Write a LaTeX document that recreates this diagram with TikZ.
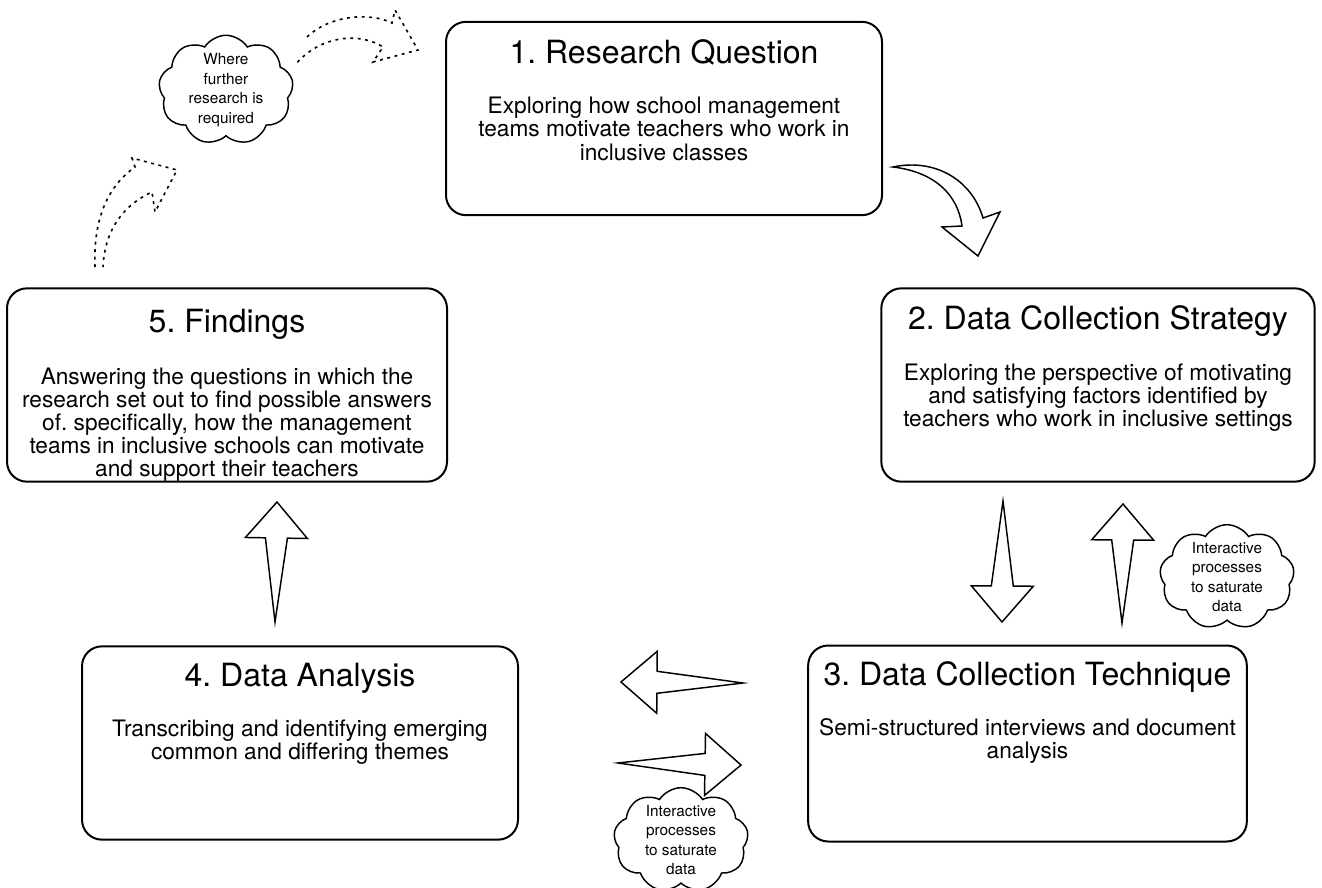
\documentclass[tikz,border=0pt]{standalone}
\usepackage{fontspec}
\setmainfont{TeX Gyre Heros}
\usetikzlibrary{calc,positioning,shapes.symbols}
\frenchspacing

% tapered block arrow from tail point #1 to tip #2
\newcommand{\taperarrow}[2]{%
    \coordinate (ta-base) at ($(#2)!27pt!(#1)$);
    \draw[blockarrow] (#1) -- ($(ta-base)!8.25pt!90:(#2)$) -- ($(ta-base)!23.25pt!90:(#2)$)
        -- (#2) -- ($(ta-base)!23.25pt!-90:(#2)$) -- ($(ta-base)!8.25pt!-90:(#2)$) -- cycle;}

\begin{document}
\begin{tikzpicture}[
    x=0.75pt, y=-0.75pt,
    stage/.style={
        rectangle,
        rounded corners=15pt,
        draw=black,
        line width=1.5pt,
        minimum width=#1,
        minimum height=145pt,
        inner sep=0pt
    },
    stage/.default=327pt,
    stagetitle/.style={
        font=\fontsize{24}{28}\selectfont,
        text height=0.72em,
        text depth=0.2em,
        inner sep=0pt
    },
    stagetext/.style={
        font=\fontsize{17}{17.4}\selectfont,
        align=center,
        anchor=north,
        inner sep=0pt
    },
    remark/.style={
        cloud,
        cloud puffs=9,
        cloud puff arc=115,
        cloud ignores aspect,
        draw=black,
        line width=1.1pt,
        fill=white,
        align=center,
        font=\fontsize{11.5}{14.7}\selectfont,
        minimum width=101pt,
        minimum height=75pt,
        inner xsep=-6pt,
        inner ysep=-1pt
    },
    blockarrow/.style={draw=black, fill=white, line width=1.1pt, line join=miter},
    dotarrow/.style={draw=black, line width=1.2pt, dash pattern=on 2.2pt off 3.4pt}
]
\useasboundingbox (0,0) rectangle (1322,888);

% stages
\node[stage] (question) at (664,118.5) {};
\node[stage=325pt] (strategy) at (1098,385) {};
\node[stage=329pt, minimum height=147pt] (technique) at (1027.5,743.5) {};
\node[stage] (analysis) at (300,743) {};
\node[stage=330pt] (findings) at (227,385) {};

\node[stagetitle] (questiont) at ($(question.north)+(0,39)$) {1. Research Question};
\node[stagetext] (questionb) at ($(question.north)+(0,76)$)
    {Exploring how school management\\teams motivate teachers who work in\\inclusive classes};

\node[stagetitle] (strategyt) at ($(strategy.north)+(0,39)$) {2. Data Collection Strategy};
\node[stagetext] (strategyb) at ($(strategy.north)+(0,76)$)
    {Exploring the perspective of motivating\\and satisfying factors identified by\\teachers who work in inclusive settings};

\node[stagetitle] (techniquet) at ($(technique.north)+(0,38)$) {3. Data Collection Technique};
\node[stagetext] (techniqueb) at ($(technique.north)+(0,74)$)
    {Semi-structured interviews and document\\analysis};

\node[stagetitle] (analysist) at ($(analysis.north)+(0,38)$) {4. Data Analysis};
\node[stagetext] (analysisb) at ($(analysis.north)+(0,74)$)
    {Transcribing and identifying emerging\\common and differing themes};

\node[stagetitle] (findingst) at ($(findings.north)+(0,42)$) {5. Findings};
\node[stagetext] (findingsb) at ($(findings.north)+(0,80)$)
    {Answering the questions in which the\\research set out to find possible answers\\of. specifically, how the management\\teams in inclusive schools can motivate\\and support their teachers};

% clouds
\node[remark] (further) at (226,90) {Where\\further\\research is\\required};
\node[remark] (iterate) at (1227,577) {Interactive\\processes\\to saturate\\data};
\node[remark] (iterateb) at (681,840) {Interactive\\processes\\to saturate\\data};

% straight block arrows
\coordinate (s2a) at (1003,501);  \coordinate (s2b) at (1002,622);
\coordinate (s3a) at (1122,623);  \coordinate (s3b) at (1123,504);
\coordinate (s4a) at (743,683);   \coordinate (s4b) at (621,682);
\coordinate (s5a) at (618,763);   \coordinate (s5b) at (741,765);
\coordinate (s6a) at (275,622);   \coordinate (s6b) at (277,502);
\taperarrow{s2a}{s2b}
\taperarrow{s3a}{s3b}
\taperarrow{s4a}{s4b}
\taperarrow{s5a}{s5b}
\taperarrow{s6a}{s6b}

% curved block arrow 1 -> 2
\draw[blockarrow] (893,167) .. controls (935,158) and (972,180) .. (983,218)
    -- (1000,212) -- (978,256) -- (942,227) -- (962,226)
    .. controls (958,195) and (935,172) .. cycle;

% dotted arrows towards further research
\draw[dotarrow] (95,267) .. controls (93,215) and (110,185) .. (135,167)
    -- (132,158) -- (177,170) -- (155,212) -- (152,192)
    .. controls (128,203) and (105,225) .. (103,267);
\draw[dotarrow] (307,37) .. controls (330,15) and (370,12) .. (392,23)
    -- (395,10) -- (418,50) -- (373,62) -- (383,47)
    .. controls (360,32) and (320,35) .. (295,65);

\end{tikzpicture}
\end{document}
